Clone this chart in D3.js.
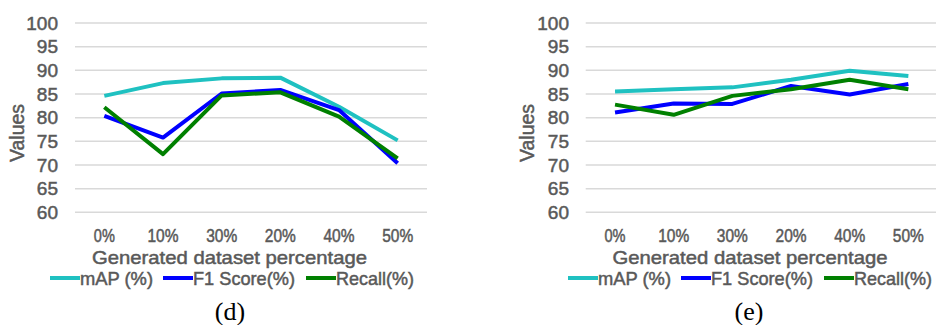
<!DOCTYPE html>
<html>
<head>
<meta charset="utf-8">
<script src="https://cdn.jsdelivr.net/npm/d3@7/dist/d3.min.js"></script>
<style>
  html, body { margin: 0; padding: 0; background: #fff; }
  svg { display: block; }
  text.lab { font-family: "Liberation Sans", Arial, sans-serif; fill: #595959; stroke: #595959; stroke-width: 0.5px; }
</style>
</head>
<body>
<svg id="chart" width="936" height="325"></svg>
<script>
// ---- data ----
const categories = ["0%", "10%", "30%", "20%", "40%", "50%"];
const yTicks = [60, 65, 70, 75, 80, 85, 90, 95, 100];
const seriesNames = ["mAP (%)", "F1 Score(%)", "Recall(%)"];
const seriesColors = ["#1fc1c1", "#0000ff", "#008000"];

// panel (d)
const mapD    = [84.6, 87.3, 88.3, 88.45, 82.3, 75.2];
const f1D     = [80.35, 75.8, 85.1, 85.85, 81.6, 70.35];
const recallD = [82.2, 72.3, 84.7, 85.35, 80.2, 71.4];

// panel (e)
const mapE    = [85.5, 86.0, 86.4, 88.0, 89.9, 88.8];
const f1E     = [81.1, 83.0, 82.9, 86.7, 84.9, 87.1];
const recallE = [82.75, 80.6, 84.6, 86.0, 88.0, 86.0];

const svg = d3.select("#chart");

function panel(opts) {
  const { x0, x1, labelX, titleCx, legendX, capCx, caption, series } = opts;
  const yTop = 23, yBot = 212.3;
  const g = svg.append("g");

  const x = d3.scaleBand().domain(categories).range([x0, x1]);
  const y = d3.scaleLinear().domain([60, 100]).range([yBot, yTop]);

  // gridlines
  g.selectAll("line.grid").data(yTicks).join("line")
    .attr("x1", x0).attr("x2", x1)
    .attr("y1", d => y(d)).attr("y2", d => y(d))
    .attr("stroke", "#d9d9d9").attr("stroke-width", 1.5);

  // y tick labels
  g.selectAll("text.yt").data(yTicks).join("text")
    .attr("class", "lab")
    .attr("x", labelX).attr("y", d => y(d) + 6.8)
    .attr("text-anchor", "end")
    .attr("font-size", 19)
    .text(d => d);

  // x tick labels
  g.selectAll("text.xt").data(categories).join("text")
    .attr("class", "lab")
    .attr("x", d => x(d) + x.bandwidth() / 2)
    .attr("y", 241.5)
    .attr("text-anchor", "middle")
    .attr("font-size", 18)
    .attr("textLength", d => d.length === 2 ? 21 : 31)
    .attr("lengthAdjust", "spacingAndGlyphs")
    .text(d => d);

  // axis title
  g.append("text")
    .attr("class", "lab")
    .attr("x", titleCx - 137.5).attr("y", 263.5)
    .attr("font-size", 19)
    .attr("textLength", 275)
    .attr("lengthAdjust", "spacingAndGlyphs")
    .text("Generated dataset percentage");

  // y title
  g.append("text")
    .attr("class", "lab")
    .attr("transform", `translate(${opts.yTitleX},133) rotate(-90)`)
    .attr("x", -29)
    .attr("dy", "0.35em")
    .attr("font-size", 19.5)
    .attr("textLength", 58)
    .attr("lengthAdjust", "spacingAndGlyphs")
    .text("Values");

  // lines
  const line = d3.line()
    .x((d, i) => x(categories[i]) + x.bandwidth() / 2)
    .y(d => y(d));
  series.forEach((s, i) => {
    g.append("path")
      .datum(s)
      .attr("fill", "none")
      .attr("stroke", seriesColors[i])
      .attr("stroke-width", 4)
      .attr("stroke-linejoin", "round")
      .attr("d", line);
  });

  // legend
  const legendOffsets = [0, 113, 256];
  const legendWidths = [73, 102, 78];
  seriesNames.forEach((name, i) => {
    const lx = legendX + legendOffsets[i];
    g.append("line")
      .attr("x1", lx).attr("x2", lx + 30)
      .attr("y1", 278).attr("y2", 278)
      .attr("stroke", seriesColors[i]).attr("stroke-width", 4);
    g.append("text")
      .attr("class", "lab")
      .attr("x", lx + 30).attr("y", 284.8)
      .attr("font-size", 19)
      .attr("textLength", legendWidths[i])
      .attr("lengthAdjust", "spacingAndGlyphs")
      .text(name);
  });

  // caption
  svg.append("text")
    .attr("x", capCx).attr("y", 320)
    .attr("text-anchor", "middle")
    .attr("font-size", 26)
    .style("font-family", "'Liberation Serif', 'Times New Roman', serif")
    .style("fill", "#000")
    .text(caption);
}

panel({ x0: 75, x1: 427, labelX: 58, titleCx: 229.5, legendX: 50, capCx: 230, yTitleX: 17,
        caption: "(d)", series: [mapD, f1D, recallD] });
panel({ x0: 585.7, x1: 937.7, labelX: 569, titleCx: 750, legendX: 568, capCx: 749, yTitleX: 527,
        caption: "(e)", series: [mapE, f1E, recallE] });
</script>
</body>
</html>
